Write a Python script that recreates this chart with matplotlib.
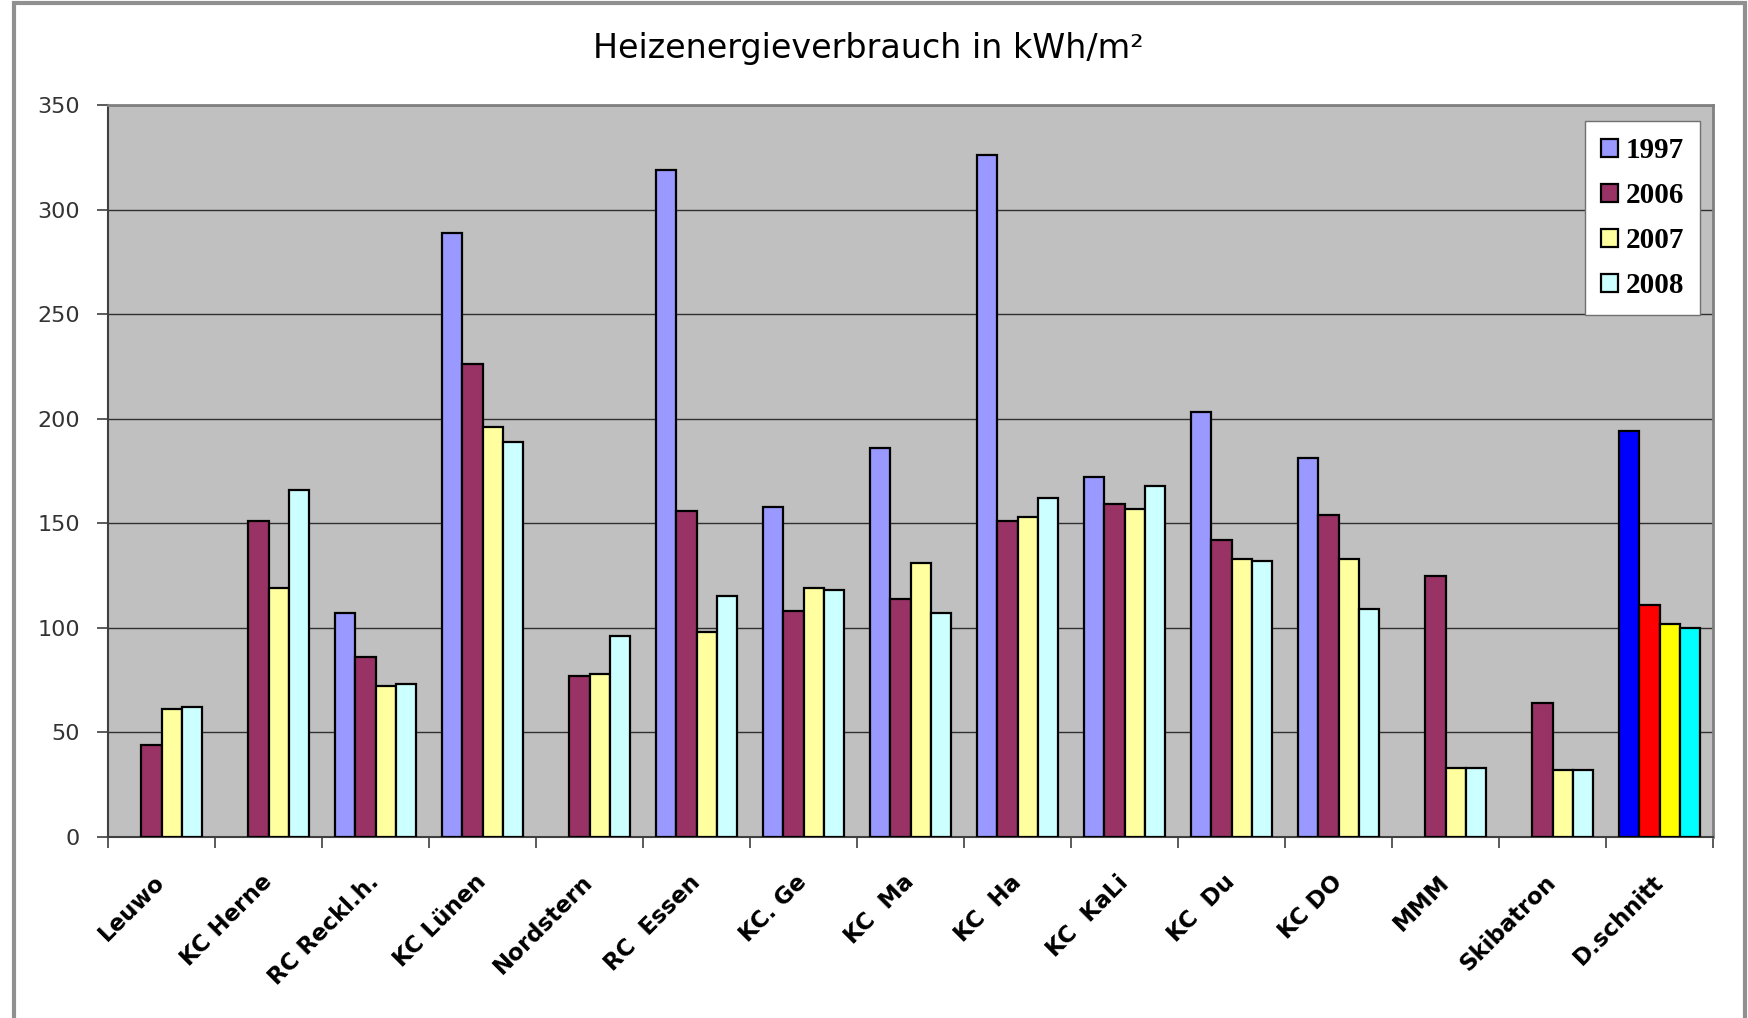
import numpy as np
import matplotlib.pyplot as plt
from matplotlib.patches import Rectangle, Patch

categories = ["Leuwo", "KC Herne", "RC Reckl.h.", "KC Lünen", "Nordstern",
              "RC  Essen", "KC. Ge", "KC  Ma", "KC  Ha", "KC  KaLi",
              "KC  Du", "KC DO", "MMM", "Skibatron", "D.schnitt"]
years = ["1997", "2006", "2007", "2008"]

v1997 = [np.nan, np.nan, 107, 289, np.nan, 319, 158, 186, 326, 172, 203, 181, np.nan, np.nan, 194]
v2006 = [44, 151, 86, 226, 77, 156, 108, 114, 151, 159, 142, 154, 125, 64, 111]
v2007 = [61, 119, 72, 196, 78, 98, 119, 131, 153, 157, 133, 133, 33, 32, 102]
v2008 = [62, 166, 73, 189, 96, 115, 118, 107, 162, 168, 132, 109, 33, 32, 100]

colors = ["#9999FF", "#993366", "#FFFFA0", "#CCFFFF"]
avg_colors = ["#0000FF", "#FF0000", "#FFFF00", "#00FFFF"]

fig = plt.figure(figsize=(17.48, 10.18), dpi=100)
ax = fig.add_axes([0.0618, 0.1778, 0.9182, 0.7191])
ax.set_facecolor("#C0C0C0")

x = np.arange(len(categories))
w = 0.19
series = [v1997, v2006, v2007, v2008]
for i, vals in enumerate(series):
    vals = np.array(vals, dtype=float)
    pos = x + (i - 1.5) * w
    bars = ax.bar(pos, np.nan_to_num(vals), w, color=colors[i], edgecolor="black",
                  linewidth=1.6, zorder=3)
    for j, b in enumerate(bars):
        if np.isnan(vals[j]):
            b.set_visible(False)
    bars[-1].set_facecolor(avg_colors[i])

ax.set_xlim(-0.5, len(categories) - 0.5)
ax.set_ylim(0, 350)
ax.set_yticks(np.arange(0, 351, 50))
ax.yaxis.grid(True, color="#303030", linewidth=1.0, zorder=0)
ax.set_axisbelow(True)

ax.set_xticks(np.arange(-0.5, len(categories), 1.0))
ax.set_xticklabels([])
ax.set_xticks(x, minor=True)
ax.set_xticklabels(categories, minor=True, rotation=45, ha="right", va="center",
                   rotation_mode="anchor", fontsize=16.5, fontweight="bold",
                   family="DejaVu Sans")
ax.tick_params(axis="x", which="minor", length=0, pad=30)
ax.tick_params(axis="x", which="major", length=8, color="#404040", width=1.2)
ax.tick_params(axis="y", length=8, color="#404040", width=1.2, labelsize=16,
               labelcolor="#333333", pad=12)

for s in ["left", "bottom"]:
    ax.spines[s].set_color("#404040")
    ax.spines[s].set_linewidth(1.5)
for s in ["top", "right"]:
    ax.spines[s].set_color("#808080")
    ax.spines[s].set_linewidth(2)

handles = [Patch(facecolor=c, edgecolor="black", linewidth=1.6, label=y)
           for c, y in zip(colors, years)]
leg = ax.legend(handles=handles, loc="upper right", bbox_to_anchor=(0.992, 0.978),
                frameon=True, fancybox=False, edgecolor="#707070", framealpha=1,
                prop={"family": "Liberation Serif", "weight": "bold", "size": 21},
                handlelength=0.6, handleheight=0.6, handletextpad=0.25,
                labelspacing=0.62, borderpad=0.55, borderaxespad=0)

fig.text(0.497, 0.952, "Heizenergieverbrauch in kWh/m²", ha="center", va="center",
         fontsize=24, fontweight="medium", family="DejaVu Sans")

fig.patches.append(Rectangle((0.008, -0.01), 0.99, 1.007, transform=fig.transFigure,
                             fill=False, edgecolor="#909090", linewidth=3))

fig.savefig("out.png", dpi=100)
